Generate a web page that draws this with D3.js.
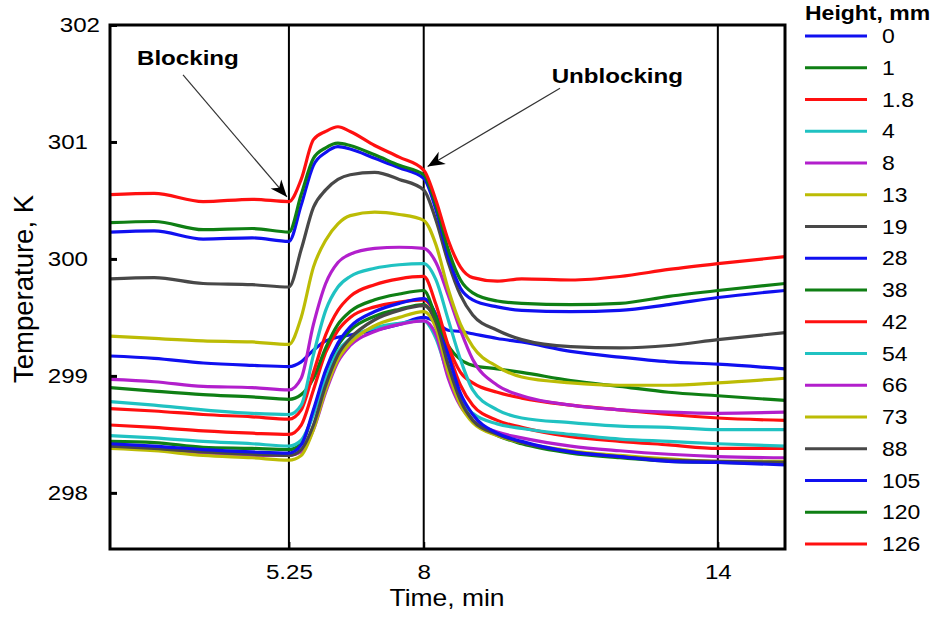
<!DOCTYPE html>
<html><head><meta charset="utf-8">
<script src="https://cdn.jsdelivr.net/npm/d3@7"></script>
<style>
body{margin:0;background:#fff}
text{font-family:"Liberation Sans",Arial,sans-serif;fill:#000}
</style>
</head><body>
<svg id="chart" width="930" height="620"></svg>
<script>
// ---- data ----
const times = [1.6, 2.5, 3.5, 4.5, 5.25, 5.5, 5.75, 6.0, 6.25, 6.5, 7.0, 7.5, 8.0, 8.25, 8.5, 8.75, 9.0, 9.5, 10, 11, 12, 13, 14, 15.37];
const heightLabels = ["0","1","1.8","4","8","13","19","28","38","42","54","66","73","88","105","120","126"];
const seriesColors = ["#1010f0","#0f7f14","#ff1010","#20c2c2","#b21fcc","#bcbc05","#484848","#1010f0","#0f7f14","#ff1010","#20c2c2","#b21fcc","#bcbc05","#484848","#1010f0","#0f7f14","#ff1010"];

const h0   = [299.17,299.15,299.11,299.09,299.08,299.12,299.22,299.30,299.33,299.35,299.39,299.44,299.50,299.46,299.39,299.38,299.36,299.32,299.29,299.21,299.16,299.12,299.10,299.06];
const h1   = [298.44,298.43,298.39,298.38,298.37,298.42,298.69,299.03,299.26,299.39,299.51,299.57,299.61,299.46,299.09,298.79,298.62,298.49,298.42,298.34,298.30,298.27,298.26,298.25];
const h1_8 = [298.58,298.56,298.53,298.51,298.50,298.58,298.88,299.20,299.39,299.50,299.59,299.63,299.65,299.52,299.21,298.92,298.75,298.62,298.56,298.48,298.44,298.41,298.38,298.38];
const h4   = [298.49,298.47,298.44,298.42,298.40,298.45,298.67,298.98,299.21,299.32,299.41,299.45,299.47,299.32,299.01,298.79,298.68,298.59,298.55,298.50,298.46,298.44,298.42,298.40];
const h8   = [298.39,298.38,298.34,298.32,298.32,298.35,298.54,298.86,299.12,299.26,299.38,299.44,299.47,299.35,298.98,298.74,298.62,298.52,298.47,298.40,298.36,298.33,298.31,298.30];
const h13  = [298.38,298.36,298.32,298.30,298.28,298.32,298.54,298.88,299.14,299.28,299.43,299.50,299.55,299.41,299.03,298.75,298.60,298.49,298.43,298.36,298.32,298.29,298.27,298.27];
const h19  = [298.40,298.38,298.35,298.33,298.32,298.37,298.58,298.92,299.18,299.32,299.48,299.56,299.60,299.46,299.09,298.79,298.62,298.50,298.43,298.35,298.31,298.28,298.27,298.26];
const h28  = [298.42,298.40,298.37,298.35,298.34,298.41,298.71,299.05,299.28,299.42,299.55,299.62,299.66,299.52,299.18,298.85,298.67,298.51,298.44,298.35,298.31,298.27,298.26,298.24];
const h38  = [298.90,298.87,298.84,298.82,298.80,298.84,298.98,299.24,299.44,299.55,299.65,299.70,299.73,299.50,299.26,299.14,299.09,299.06,299.03,298.96,298.91,298.86,298.83,298.79];
const h42  = [298.72,298.70,298.67,298.65,298.63,298.71,299.03,299.35,299.56,299.68,299.78,299.83,299.85,299.61,299.26,299.03,298.94,298.86,298.81,298.75,298.71,298.67,298.64,298.62];
const h54  = [298.78,298.75,298.71,298.68,298.67,298.75,299.18,299.56,299.76,299.85,299.92,299.95,299.96,299.82,299.48,299.14,298.88,298.71,298.64,298.60,298.57,298.56,298.54,298.54];
const h66  = [298.97,298.95,298.91,298.90,298.88,298.98,299.44,299.79,299.97,300.04,300.09,300.10,300.09,299.97,299.69,299.39,299.14,298.92,298.83,298.75,298.71,298.69,298.68,298.69];
const h73  = [299.34,299.32,299.30,299.29,299.27,299.50,299.93,300.16,300.30,300.37,300.40,300.38,300.33,300.12,299.74,299.44,299.25,299.08,298.99,298.94,298.92,298.92,298.94,298.98];
const h88  = [299.83,299.84,299.79,299.78,299.76,300.08,300.44,300.59,300.68,300.72,300.74,300.68,300.59,300.33,299.97,299.69,299.52,299.39,299.31,299.25,299.24,299.26,299.31,299.37];
const h105 = [300.23,300.24,300.17,300.18,300.15,300.46,300.80,300.91,300.96,300.94,300.86,300.78,300.69,300.42,300.02,299.75,299.65,299.59,299.56,299.55,299.56,299.61,299.67,299.73];
const h120 = [300.31,300.32,300.25,300.26,300.23,300.55,300.86,300.95,300.99,300.97,300.89,300.80,300.72,300.46,300.08,299.82,299.71,299.64,299.62,299.61,299.62,299.68,299.73,299.79];
const h126 = [300.55,300.56,300.49,300.51,300.49,300.68,301.02,301.09,301.13,301.09,300.97,300.87,300.76,300.50,300.16,299.93,299.84,299.81,299.83,299.82,299.85,299.91,299.96,300.02];

const seriesValues = [h0,h1,h1_8,h4,h8,h13,h19,h28,h38,h42,h54,h66,h73,h88,h105,h120,h126];
const yTicks = [298, 299, 300, 301, 302];
const xTicks = [5.25, 8, 14];
const eventTimes = [5.25, 8, 14];
const annotations = [
  {text: "Blocking",   tx: 2.15, ty: 301.66, x0: 3.09, y0: 301.573, x1: 5.21, y1: 300.53},
  {text: "Unblocking", tx: 10.61, ty: 301.50, x0: 10.78, y0: 301.46, x1: 8.08, y1: 300.79}
];

// ---- chart ----
const svg = d3.select("#chart");
const SX = 1.15;
const x = d3.scaleLinear().domain([1.6, 15.37]).range([110, 785]);
const y = d3.scaleLinear().domain([297.52, 302]).range([549, 25]);

svg.append("defs").append("clipPath").attr("id","clip")
  .append("rect").attr("x",110).attr("y",25).attr("width",675).attr("height",524);

// event lines
svg.append("g").selectAll("line").data(eventTimes).join("line")
  .attr("x1", d => x(d)).attr("x2", d => x(d)).attr("y1", y(302)).attr("y2", y(297.52))
  .attr("stroke","#000").attr("stroke-width",2);

// series lines
const line = d3.line().x((d,i) => x(times[i])).y(d => y(d)).curve(d3.curveMonotoneX);
svg.append("g").attr("clip-path","url(#clip)").selectAll("path").data(seriesValues).join("path")
  .attr("d", d => line(d)).attr("fill","none")
  .attr("stroke", (d,i) => seriesColors[i]).attr("stroke-width",3.2).attr("stroke-linejoin","round");

// axes
const yAxis = svg.append("g").attr("transform","translate(110,0)")
  .call(d3.axisLeft(y).tickValues(yTicks).tickSizeInner(-7).tickSizeOuter(0).tickPadding(22).tickFormat(d3.format("d")));
yAxis.select(".domain").remove();
yAxis.selectAll(".tick line").attr("stroke","#000").attr("stroke-width",3);
yAxis.selectAll(".tick text").attr("font-size",21).attr("x",0)
  .attr("transform", d => `translate(${d===302 ? -10 : -22},0) scale(${SX},1)`)
  .style("font-family","Liberation Sans, Arial, sans-serif");

const xAxis = svg.append("g").attr("transform","translate(0,549)")
  .call(d3.axisBottom(x).tickValues(xTicks).tickSizeInner(-7).tickSizeOuter(0).tickPadding(15).tickFormat(d => String(d)));
xAxis.select(".domain").remove();
xAxis.selectAll(".tick line").attr("stroke","#000").attr("stroke-width",2);
xAxis.selectAll(".tick text").attr("font-size",21).attr("x",0)
  .attr("transform",`scale(${SX},1)`)
  .style("font-family","Liberation Sans, Arial, sans-serif");

// frame
svg.append("rect").attr("x",110).attr("y",25).attr("width",675).attr("height",524)
  .attr("fill","none").attr("stroke","#000").attr("stroke-width",3);

// axis titles
svg.append("text").attr("transform",`translate(447,606) scale(${SX},1)`).attr("text-anchor","middle")
  .attr("font-size",23).text("Time, min");
svg.append("text").attr("transform",`translate(33,289) rotate(-90)`).attr("text-anchor","middle")
  .attr("font-size",27.5).text("Temperature, K");

// annotations
svg.append("defs").append("marker").attr("id","arr").attr("markerUnits","userSpaceOnUse")
  .attr("viewBox","-18 -8 20 16").attr("refX",0).attr("refY",0).attr("markerWidth",20).attr("markerHeight",16)
  .attr("orient","auto")
  .append("path").attr("d","M0,0 L-17,-7 L-12,0 L-17,7 Z").attr("fill","#000");
const ann = svg.append("g");
ann.selectAll("line").data(annotations).join("line")
  .attr("x1", d => x(d.x0)).attr("y1", d => y(d.y0)).attr("x2", d => x(d.x1)).attr("y2", d => y(d.y1))
  .attr("stroke","#333").attr("stroke-width",1.2).attr("marker-end","url(#arr)");
ann.selectAll("text").data(annotations).join("text")
  .attr("transform", d => `translate(${x(d.tx)},${y(d.ty)}) scale(${SX},1)`)
  .attr("font-size",21).attr("font-weight","bold").text(d => d.text);

// legend
const lg = svg.append("g");
lg.append("text").attr("transform",`translate(805,20) scale(${SX},1)`).attr("font-size",20).attr("font-weight","bold").text("Height, mm");
const items = lg.selectAll("g.it").data(heightLabels).join("g").attr("class","it")
  .attr("transform",(d,i) => `translate(0,${36 + i*31.75})`);
items.append("line").attr("x1",805).attr("x2",867).attr("stroke",(d,i) => seriesColors[i]).attr("stroke-width",3);
items.append("text").attr("transform",`translate(882,0) scale(${SX},1)`).attr("dy","0.36em").attr("font-size",20).text(d => d);
</script>
</body></html>
